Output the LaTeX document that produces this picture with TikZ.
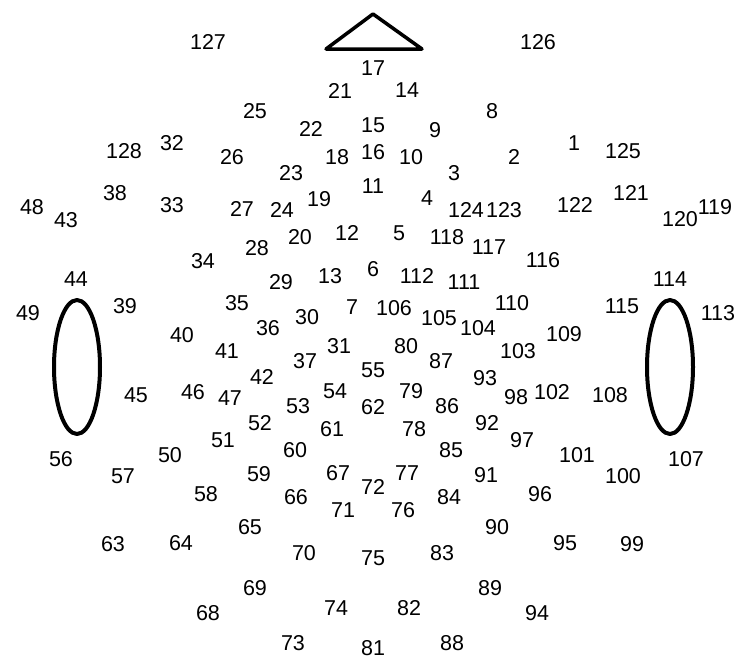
\documentclass[tikz,border=0pt]{standalone}
\usepackage{fontspec}
\usetikzlibrary{shapes.geometric}
\setmainfont{Liberation Sans}
\begin{document}
\begin{tikzpicture}[x=1pt,y=-1pt,
  lbl/.style={inner sep=0pt,font=\fontsize{21.5}{21.5}\selectfont},
  outline/.style={line width=4pt,line join=round,black}]
\useasboundingbox (0,0) rectangle (755,672);
\fill[white] (0,0) rectangle (755,672);
% nose
\coordinate (apex) at (373,14);
\coordinate (bl) at (326,49);
\coordinate (br) at (422,49);
\draw[outline,line width=3.5pt] (apex) -- (br) -- (bl) -- cycle;
% ears
\node[draw,outline,ellipse,minimum width=46pt,minimum height=134pt,inner sep=0pt] (earL) at (77,367) {};
\node[draw,outline,ellipse,minimum width=46pt,minimum height=134pt,inner sep=0pt] (earR) at (670,367) {};
% electrodes
\foreach \n/\x/\y in {127/208/42, 126/538/42, 17/373/68, 21/340/91, 14/407/90, 25/255/111, 8/492/111,
  22/311/129, 15/373/125, 9/435/130, 32/172/143, 128/124/151, 26/232/157, 18/337/157, 16/373/152,
  10/411/157, 2/514/157, 1/574/143, 125/623/151, 23/291/173, 3/454/173, 11/373/186, 38/115/193,
  33/172/205, 48/32/207, 43/66/220, 27/242/209, 24/282/210, 19/319/199, 4/427/198, 124/466/210,
  123/504/210, 122/575/205, 121/631/193, 120/680/219, 119/715/207,
  34/203/261, 44/76/279, 49/28/313, 39/125/306, 35/237/303, 40/182/335, 41/227/351, 45/136/395,
  46/193/392, 47/230/398, 51/223/440,
  20/300/237, 12/347/233, 5/399/233, 118/447/237, 117/489/247, 28/257/248, 29/281/282, 13/330/276,
  6/373/269, 112/417/276, 111/464/282, 7/352/307, 106/394/308, 30/307/317, 105/439/318, 104/478/328,
  36/268/328, 31/339/346, 80/406/346, 37/305/361, 87/441/361, 55/373/370, 42/262/377, 93/485/378,
  54/335/391, 79/411/391, 53/298/406, 62/373/407, 86/447/406, 52/260/423, 92/487/423, 61/332/429,
  78/414/429,
  116/543/260, 114/670/279, 110/512/303, 115/622/306, 113/718/313, 109/564/334, 103/518/351,
  98/516/397, 102/552/392, 108/610/395, 97/522/440,
  56/61/459, 50/170/455, 57/123/476, 58/206/494, 63/113/544, 64/181/543, 68/208/613, 65/250/527,
  69/255/588,
  60/295/450, 85/451/450, 59/259/474, 67/338/473, 72/373/487, 77/407/473, 91/486/475, 66/296/497,
  71/343/510, 76/403/510, 84/449/497, 90/497/527, 70/304/553, 75/373/558, 83/442/553, 89/490/588,
  74/336/608, 82/409/608, 73/293/643, 81/373/648, 88/452/643,
  101/577/455, 107/686/459, 100/623/476, 96/540/494, 95/565/543, 99/632/544, 94/537/613}
  \node[lbl] (e\n) at (\x,\y) {\n};
\end{tikzpicture}
\end{document}
